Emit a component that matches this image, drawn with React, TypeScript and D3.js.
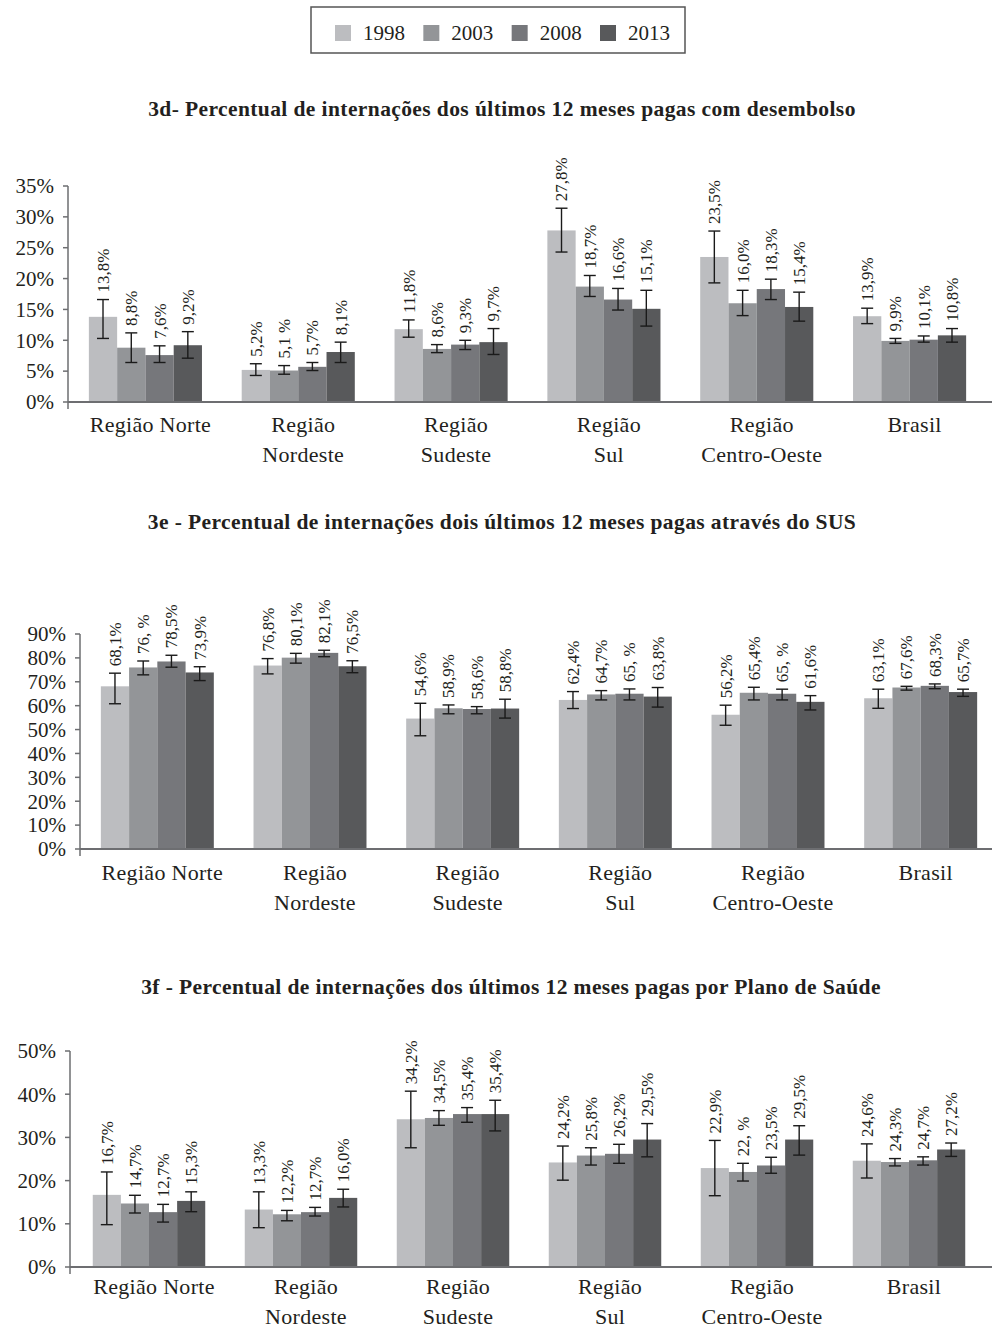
import React, { useEffect, useRef } from 'react';
import * as d3 from 'd3';

const years = ['1998', '2003', '2008', '2013'];
const colors = ['#bcbdc0', '#939598', '#76777b', '#58595b'];
const regions = [
  ['Região Norte'],
  ['Região', 'Nordeste'],
  ['Região', 'Sudeste'],
  ['Região', 'Sul'],
  ['Região', 'Centro-Oeste'],
  ['Brasil'],
];

// 3d - desembolso
const desembolso = [
  [13.8, 8.8, 7.6, 9.2],
  [5.2, 5.1, 5.7, 8.1],
  [11.8, 8.6, 9.3, 9.7],
  [27.8, 18.7, 16.6, 15.1],
  [23.5, 16.0, 18.3, 15.4],
  [13.9, 9.9, 10.1, 10.8],
];
const desembolsoLow = [
  [10.3, 6.4, 6.4, 7.1],
  [4.3, 4.5, 5.1, 6.4],
  [10.5, 8.0, 8.5, 7.7],
  [24.3, 17.1, 14.9, 12.3],
  [19.3, 14.0, 16.6, 13.1],
  [12.7, 9.5, 9.7, 9.7],
];
const desembolsoHigh = [
  [16.6, 11.2, 9.1, 11.4],
  [6.2, 5.9, 6.4, 9.7],
  [13.3, 9.3, 10.0, 11.9],
  [31.4, 20.5, 18.4, 18.1],
  [27.7, 18.1, 19.9, 17.8],
  [15.2, 10.3, 10.7, 11.9],
];
const desembolsoLabels = [
  ['13,8%', '8,8%', '7,6%', '9,2%'],
  ['5,2%', '5,1 %', '5,7%', '8,1%'],
  ['11,8%', '8,6%', '9,3%', '9,7%'],
  ['27,8%', '18,7%', '16,6%', '15,1%'],
  ['23,5%', '16,0%', '18,3%', '15,4%'],
  ['13,9%', '9,9%', '10,1%', '10,8%'],
];

// 3e - SUS
const sus = [
  [68.1, 76.0, 78.5, 73.9],
  [76.8, 80.1, 82.1, 76.5],
  [54.6, 58.9, 58.6, 58.8],
  [62.4, 64.7, 65.0, 63.8],
  [56.2, 65.4, 65.0, 61.6],
  [63.1, 67.6, 68.3, 65.7],
];
const susLow = [
  [60.8, 72.9, 76.1, 70.5],
  [73.3, 77.8, 80.5, 73.8],
  [47.4, 56.6, 56.6, 54.8],
  [58.8, 62.4, 62.4, 59.4],
  [51.8, 62.4, 62.4, 58.2],
  [58.9, 66.5, 67.1, 63.9],
];
const susHigh = [
  [73.6, 78.7, 81.1, 76.3],
  [79.7, 81.9, 83.2, 78.8],
  [61.0, 60.3, 59.6, 62.7],
  [65.9, 66.3, 67.0, 67.6],
  [60.2, 67.7, 66.9, 64.2],
  [66.9, 68.1, 69.1, 66.9],
];
const susLabels = [
  ['68,1%', '76, %', '78,5%', '73,9%'],
  ['76,8%', '80,1%', '82,1%', '76,5%'],
  ['54,6%', '58,9%', '58,6%', '58,8%'],
  ['62,4%', '64,7%', '65, %', '63,8%'],
  ['56,2%', '65,4%', '65, %', '61,6%'],
  ['63,1%', '67,6%', '68,3%', '65,7%'],
];

// 3f - plano de saude
const plano = [
  [16.7, 14.7, 12.7, 15.3],
  [13.3, 12.2, 12.7, 16.0],
  [34.2, 34.5, 35.4, 35.4],
  [24.2, 25.8, 26.2, 29.5],
  [22.9, 22.0, 23.5, 29.5],
  [24.6, 24.3, 24.7, 27.2],
];
const planoLow = [
  [9.8, 12.5, 10.4, 12.8],
  [9.1, 10.7, 11.8, 13.9],
  [27.6, 32.8, 33.5, 31.5],
  [20.1, 23.6, 24.0, 25.5],
  [16.5, 19.9, 21.7, 25.9],
  [20.6, 23.4, 23.6, 25.6],
];
const planoHigh = [
  [22.0, 16.6, 14.5, 17.4],
  [17.4, 13.1, 13.8, 18.0],
  [40.7, 36.2, 36.9, 38.6],
  [28.0, 27.6, 28.4, 33.2],
  [29.3, 24.0, 25.4, 32.7],
  [28.5, 25.1, 25.5, 28.7],
];
const planoLabels = [
  ['16,7%', '14,7%', '12,7%', '15,3%'],
  ['13,3%', '12,2%', '12,7%', '16,0%'],
  ['34,2%', '34,5%', '35,4%', '35,4%'],
  ['24,2%', '25,8%', '26,2%', '29,5%'],
  ['22,9%', '22, %', '23,5%', '29,5%'],
  ['24,6%', '24,3%', '24,7%', '27,2%'],
];

const panels = [
  {
    title: '3d- Percentual de internações dos últimos 12 meses pagas com desembolso',
    titleX: 502, titleY: 116,
    values: desembolso, low: desembolsoLow, high: desembolsoHigh, labels: desembolsoLabels,
    yMax: 35, yStep: 5, top: 186, base: 402, axisX: 68, tickRight: 54,
    bandStart: 69, bandEnd: 986, catY: 432,
  },
  {
    title: '3e - Percentual de internações dois últimos 12 meses pagas através do SUS',
    titleX: 502, titleY: 529,
    values: sus, low: susLow, high: susHigh, labels: susLabels,
    yMax: 90, yStep: 10, top: 634, base: 849, axisX: 80, tickRight: 66,
    bandStart: 81, bandEnd: 997, catY: 880,
  },
  {
    title: '3f - Percentual de internações dos últimos 12 meses pagas por Plano de Saúde',
    titleX: 511, titleY: 994,
    values: plano, low: planoLow, high: planoHigh, labels: planoLabels,
    yMax: 50, yStep: 10, top: 1051, base: 1267, axisX: 70, tickRight: 56,
    bandStart: 73, bandEnd: 985, catY: 1294,
  },
];

const font = '"Liberation Serif", "Times New Roman", serif';
const ink = '#231f20';

const App = () => {
  const ref = useRef(null);

  useEffect(() => {
    const svg = d3.select(ref.current);
    svg.selectAll('*').remove();

    // legend
    const lg = svg.append('g');
    lg.append('rect')
      .attr('x', 311).attr('y', 7).attr('width', 374).attr('height', 46)
      .attr('fill', 'none').attr('stroke', '#555').attr('stroke-width', 1.5);
    const legendX = d3.scalePoint().domain(years).range([335, 600]);
    years.forEach((yr, i) => {
      lg.append('rect')
        .attr('x', legendX(yr)).attr('y', 25).attr('width', 16).attr('height', 16)
        .attr('fill', colors[i]);
      lg.append('text')
        .attr('x', legendX(yr) + 28).attr('y', 40)
        .attr('font-family', font).attr('font-size', 21).attr('fill', ink)
        .text(yr);
    });

    panels.forEach((p) => {
      const g = svg.append('g');

      g.append('text')
        .attr('x', p.titleX).attr('y', p.titleY)
        .attr('text-anchor', 'middle')
        .attr('font-family', font).attr('font-weight', 'bold').attr('font-size', 21.5)
        .attr('letter-spacing', 0.4)
        .attr('fill', ink)
        .text(p.title);

      const y = d3.scaleLinear().domain([0, p.yMax]).range([p.base, p.top]);
      const x0 = d3.scaleBand()
        .domain(d3.range(regions.length))
        .range([p.bandStart, p.bandEnd])
        .paddingInner(0.26)
        .paddingOuter(0.13);
      const x1 = d3.scaleBand().domain(years).range([0, x0.bandwidth()]);

      // y axis
      const ticks = d3.range(0, p.yMax + 0.001, p.yStep);
      g.append('line')
        .attr('x1', p.axisX).attr('x2', p.axisX)
        .attr('y1', y(p.yMax)).attr('y2', p.base + 7)
        .attr('stroke', '#6d6e71').attr('stroke-width', 1.5);
      ticks.forEach((t) => {
        g.append('line')
          .attr('x1', p.axisX - 5).attr('x2', p.axisX)
          .attr('y1', y(t)).attr('y2', y(t))
          .attr('stroke', '#6d6e71').attr('stroke-width', 1.5);
        g.append('text')
          .attr('x', p.tickRight).attr('y', y(t))
          .attr('dy', '0.35em')
          .attr('text-anchor', 'end')
          .attr('font-family', font).attr('font-size', 21).attr('fill', ink)
          .text(`${t}%`);
      });

      // bars
      p.values.forEach((row, r) => {
        const grp = g.append('g').attr('transform', `translate(${x0(r)},0)`);
        row.forEach((v, k) => {
          const bx = x1(years[k]);
          const cx = bx + x1.bandwidth() / 2;
          grp.append('rect')
            .attr('x', bx).attr('y', y(v))
            .attr('width', x1.bandwidth()).attr('height', p.base - y(v))
            .attr('fill', colors[k]);
          const lo = y(p.low[r][k]);
          const hi = y(p.high[r][k]);
          grp.append('line')
            .attr('x1', cx).attr('x2', cx).attr('y1', hi).attr('y2', lo)
            .attr('stroke', '#1a1a1a').attr('stroke-width', 1.4);
          [hi, lo].forEach((yy) => {
            grp.append('line')
              .attr('x1', cx - 6).attr('x2', cx + 6).attr('y1', yy).attr('y2', yy)
              .attr('stroke', '#1a1a1a').attr('stroke-width', 1.4);
          });
          grp.append('text')
            .attr('transform', `translate(${cx},${hi - 7}) rotate(-90)`)
            .attr('dy', '0.35em')
            .attr('font-family', font).attr('font-size', 17).attr('fill', ink)
            .text(p.labels[r][k]);
        });
      });

      // baseline
      g.append('line')
        .attr('x1', p.axisX).attr('x2', 992)
        .attr('y1', p.base).attr('y2', p.base)
        .attr('stroke', '#6d6e71').attr('stroke-width', 1.8);

      // category labels (sit a little right of the group centre, as in the original)
      regions.forEach((lines, r) => {
        lines.forEach((ln, li) => {
          g.append('text')
            .attr('x', x0(r) + x0.bandwidth() / 2 + 5)
            .attr('y', p.catY + li * 29.5)
            .attr('text-anchor', 'middle')
            .attr('font-family', font).attr('font-size', 22).attr('letter-spacing', 0.3)
            .attr('fill', ink)
            .text(ln);
        });
      });
    });
  }, []);

  return (
    <svg
      ref={ref}
      width={992}
      height={1327}
      style={{ position: 'absolute', left: 0, top: 0, background: '#fff' }}
    />
  );
};

export default App;
